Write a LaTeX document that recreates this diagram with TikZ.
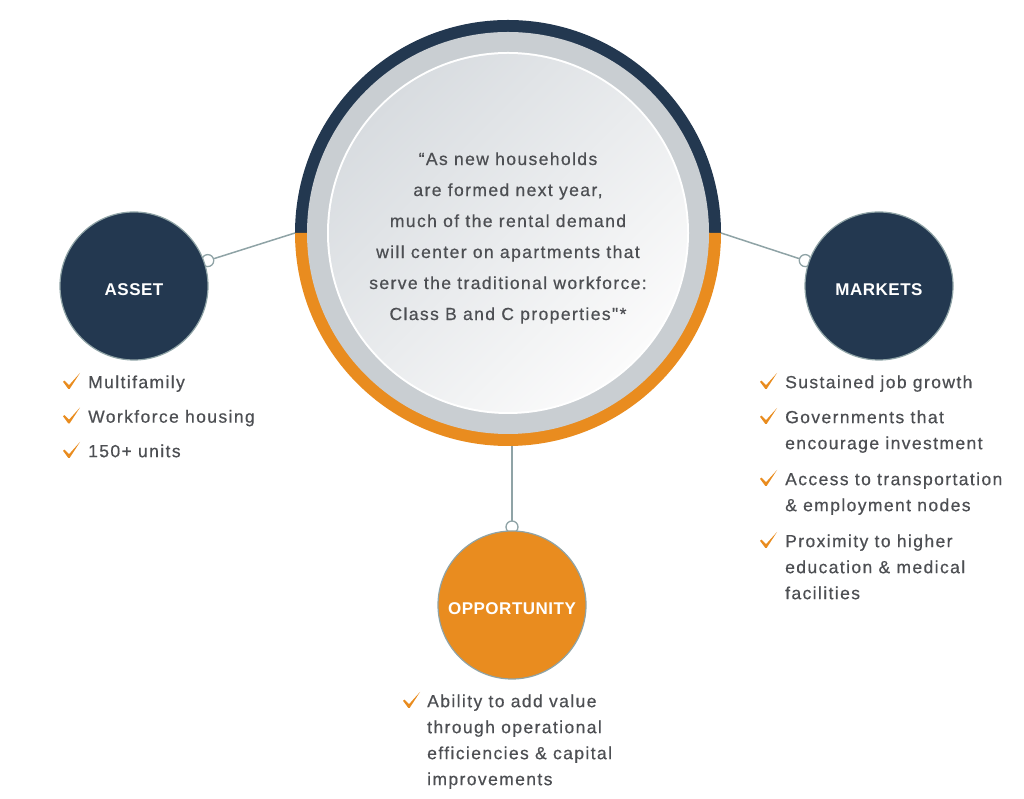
\documentclass[tikz,border=0pt]{standalone}
\usepackage{fontspec}
\setmainfont{Liberation Sans}
\newfontfamily\quotefont[LetterSpace=8,FakeBold=0.6]{Liberation Sans}
\newfontfamily\labelfont[LetterSpace=3]{Liberation Sans}
\usetikzlibrary{positioning,backgrounds,calc}

\definecolor{navy}{HTML}{233850}
\definecolor{tickorange}{HTML}{E98C1F}
\definecolor{ringgray}{HTML}{C9CED2}
\definecolor{linegray}{HTML}{8FA3A6}
\definecolor{txtgray}{HTML}{4D4F53}
\definecolor{qtop}{HTML}{D8DCE0}
\definecolor{qbottom}{HTML}{FBFBFB}

\begin{document}
\begin{tikzpicture}[x=1pt,y=1pt,node distance=1pt,on grid,
  topic/.style={circle,minimum size=148pt,inner sep=0pt,outer sep=0pt,draw=linegray,line width=1.2pt,
    text=white,font={\labelfont\bfseries\fontsize{17}{20}\selectfont},text height=20pt,text depth=0pt},
  hook/.style={circle,minimum size=12pt,inner sep=0pt,outer sep=0pt,draw=linegray,line width=1.3pt,fill=white},
  link/.style={draw=linegray,line width=1.5pt},
  item/.style={anchor=north west,yshift=12.7pt,align=left,inner sep=0pt,text=txtgray,
    font={\quotefont\fontsize{17.5}{26}\selectfont}},
  checkmk/.pic={\fill[tickorange] (0,7.2) -- (1.5,8.4) -- (6,3.8) -- (17,16) -- (6.6,0) -- (5.2,0.2) -- cycle;}]
\useasboundingbox (0,0) rectangle (1024,799);

% centre circle
\node[circle,minimum size=426pt,inner sep=0pt,outer sep=0pt] (quote) at (508,566) {};
\node[align=center,text=txtgray,font={\quotefont\fontsize{17.5}{31}\selectfont}] (qtext)
  at ([yshift=-5pt]quote.center)
  {“As new households\\are formed next year,\\much of the rental demand\\will center on apartments that\\serve the traditional workforce:\\Class B and C properties"*};

% the three topics
\node[topic,fill=navy]       (asset)   [below left=53pt and 374pt of quote]  {ASSET};
\node[topic,fill=navy]       (markets) [below right=53pt and 371pt of quote] {MARKETS};
\node[topic,fill=tickorange] (opp)     [below right=372pt and 4pt of quote]  {OPPORTUNITY};

\begin{scope}[on background layer]
  \fill[navy] ($(quote.center)+(213,0)$) arc[start angle=0,end angle=180,radius=213] -- cycle;
  \fill[tickorange] ($(quote.center)+(-213,0)$) arc[start angle=180,end angle=360,radius=213] -- cycle;
  \fill[ringgray] (quote.center) circle[radius=201];
  \fill[white] (quote.center) circle[radius=181];
  \shade[top color=qtop,bottom color=qbottom,shading angle=45] (quote.center) circle[radius=179];
  % connectors
  \node[hook] (ha) at ($(asset.center)+(19:78)$) {};
  \node[hook] (hm) at ($(markets.center)+(161:78)$) {};
  \node[hook] (ho) at ($(opp.center)+(90:78)$) {};
  \draw[link] (quote.west) -- (ha);
  \draw[link] (quote.east) -- (hm);
  \draw[link] (ho |- quote.south) -- (ho);
\end{scope}

% asset list
\foreach \t [count=\i] in {Multifamily,Workforce housing,150+ units} {
  \node[item] (a\i) at (88,445.5-34.5*\i) {\t};
  \pic at ([xshift=-25pt,yshift=-13.7pt]a\i.north west) {checkmk};
}

% markets list
\node[item] (m1) at (785,411) {Sustained job growth};
\node[item] (m2) at (785,376) {Governments that\\encourage investment};
\node[item] (m3) at (785,314) {Access to transportation\\\& employment nodes};
\node[item] (m4) at (785,252) {Proximity to higher\\education \& medical\\facilities};
\foreach \i in {1,...,4}
  \pic at ([xshift=-25pt,yshift=-13.7pt]m\i.north west) {checkmk};

% opportunity list
\node[item] (o1) at (427,92) {Ability to add value\\through operational\\efficiencies \& capital\\improvements};
\pic at ([xshift=-24pt,yshift=-13.7pt]o1.north west) {checkmk};
\end{tikzpicture}
\end{document}
